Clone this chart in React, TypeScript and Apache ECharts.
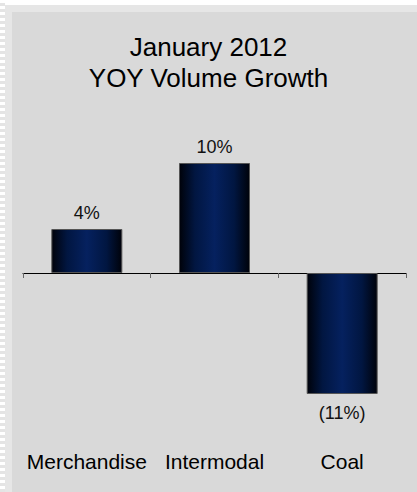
import React, { useEffect, useRef } from "react";
import * as echarts from "echarts";

const titleLines = ["January 2012", "YOY Volume Growth"];
const categories = ["Merchandise", "Intermodal", "Coal"];
const growthValues = [4, 10, -11];

const FONT = "'Liberation Sans', Arial, Helvetica, sans-serif";

export default function App() {
  const ref = useRef<HTMLDivElement>(null);

  useEffect(() => {
    if (!ref.current) return;
    const chart = echarts.init(ref.current, undefined, { renderer: "svg" });
    const barGradient = new echarts.graphic.LinearGradient(0, 0, 1, 0, [
      { offset: 0, color: "#00020a" },
      { offset: 0.22, color: "#011641" },
      { offset: 0.5, color: "#05215f" },
      { offset: 0.78, color: "#011641" },
      { offset: 1, color: "#00020a" },
    ]);
    chart.setOption({
      animation: false,
      backgroundColor: "transparent",
      title: {
        text: titleLines.join("\n"),
        left: "center",
        top: 31,
        padding: 0,
        textStyle: {
          fontFamily: FONT,
          fontSize: 26,
          fontWeight: "normal",
          color: "#000",
          lineHeight: 31,
        },
      },
      grid: { left: 23, right: 11, top: 163, bottom: 98, containLabel: false },
      xAxis: [
        {
          type: "category",
          data: categories,
          axisLine: { onZero: true, lineStyle: { color: "#000", width: 1 } },
          axisTick: { show: true, length: 5, lineStyle: { color: "#666" } },
          axisLabel: { show: false },
          splitLine: { show: false },
        },
        {
          type: "category",
          data: categories,
          position: "bottom",
          axisLine: { show: false, onZero: false },
          axisTick: { show: false },
          axisLabel: {
            show: true,
            margin: 57,
            fontFamily: FONT,
            fontSize: 21,
            color: "#000",
            interval: 0,
          },
          splitLine: { show: false },
        },
      ],
      yAxis: {
        type: "value",
        min: -11,
        max: 10,
        show: false,
        splitLine: { show: false },
      },
      series: [
        {
          type: "bar",
          xAxisIndex: 0,
          barWidth: 71,
          data: growthValues.map((v) => ({
            value: v,
            label: {
              position: v >= 0 ? "top" : "bottom",
              distance: v >= 0 ? 7 : 10,
            },
          })),
          itemStyle: {
            color: barGradient,
            borderColor: "#555",
            borderWidth: 1,
          },
          label: {
            show: true,
            fontFamily: FONT,
            fontSize: 18,
            color: "#111",
            formatter: (p: any) =>
              p.value >= 0 ? `${p.value}%` : `(${Math.abs(p.value)}%)`,
          },
        },
      ],
    });
    return () => chart.dispose();
  }, []);

  const background = [
    "linear-gradient(#d9d9d9,#d9d9d9) 12px 12px / 405px 480px no-repeat",
    "linear-gradient(#fff,#fff) 5px 0 / 412px 5px no-repeat",
    "linear-gradient(#e6e6e6,#e6e6e6) 5px 5px / 412px 487px no-repeat",
    "repeating-linear-gradient(to bottom, #ffffff 0px, #ffffff 3px, #e4e4e4 3px, #e4e4e4 6px) 0 0 / 5px 492px no-repeat",
    "#fff",
  ].join(", ");

  return (
    <div
      style={{
        position: "absolute",
        left: 0,
        top: 0,
        width: 417,
        height: 492,
        background,
      }}
    >
      <div ref={ref} style={{ width: 417, height: 492 }} />
    </div>
  );
}
